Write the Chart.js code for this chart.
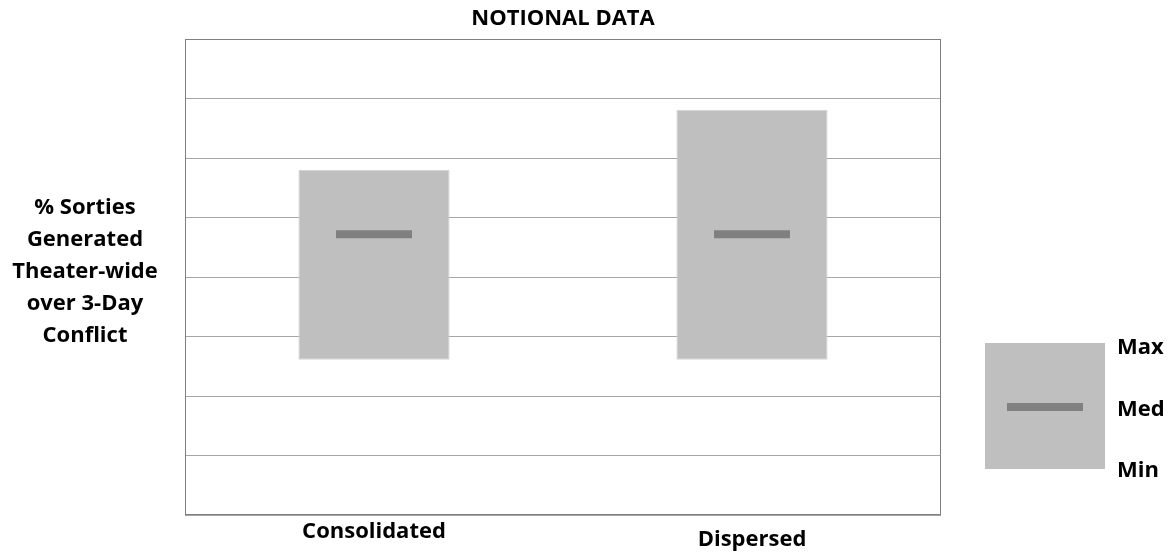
<!DOCTYPE html>
<html>
<head>
<meta charset="utf-8">
<script src="https://cdn.jsdelivr.net/npm/chart.js@4/dist/chart.umd.min.js"></script>
<style>
  body { margin: 0; background: #fff; font-family: "Open Sans", sans-serif; }
  #wrap { position: relative; width: 1174px; height: 555px; }
  canvas { position: absolute; left: 0; top: 0; }
  .ytitle {
    position: absolute; left: 0; width: 170px; top: 189px;
    text-align: center; font-weight: bold; font-size: 22px; line-height: 32px; color: #000;
  }
  .key { position: absolute; left: 985px; top: 343px; width: 120px; height: 126px; background: #bfbfbf; }
  .key .med { position: absolute; left: 22px; top: 60px; width: 76px; height: 8px; background: #808080; }
  .keylabel { position: absolute; left: 1117px; font-weight: bold; font-size: 22px; line-height: 24px; color: #000; }
</style>
</head>
<body>
<div id="wrap">
  <canvas id="chart" width="1174" height="555"></canvas>
  <div class="ytitle">% Sorties<br>Generated<br>Theater-wide<br>over 3-Day<br>Conflict</div>
  <div class="key"><div class="med"></div></div>
  <div class="keylabel" style="top:333px">Max</div>
  <div class="keylabel" style="top:395px">Med</div>
  <div class="keylabel" style="top:456px">Min</div>
</div>
<script>
// Notional data (y scale 0..8, no tick labels shown)
const categories = ['Consolidated', 'Dispersed'];
const minValues = [2.61, 2.61];
const maxValues = [5.80, 6.81];
const medValues = [4.72, 4.72];

// Category labels are drawn by hand, the original has them slightly staggered
const categoryLabels = {
  id: 'categoryLabels',
  afterDraw(chart) {
    const ctx = chart.ctx;
    const xScale = chart.scales.x;
    const bottom = chart.chartArea.bottom;
    const drop = [17, 25];
    ctx.save();
    ctx.font = 'bold 22px "Open Sans", sans-serif';
    ctx.fillStyle = '#000';
    ctx.textAlign = 'center';
    ctx.textBaseline = 'middle';
    categories.forEach((label, i) => {
      ctx.fillText(label, xScale.getPixelForValue(i), bottom + drop[i]);
    });
    ctx.restore();
  }
};

// Box round the plot area
const plotBorder = {
  id: 'plotBorder',
  afterDraw(chart) {
    const { left, top, width, height } = chart.chartArea;
    const ctx = chart.ctx;
    ctx.save();
    ctx.strokeStyle = '#7f7f7f';
    ctx.lineWidth = 1;
    ctx.strokeRect(left + 0.5, top + 0.5, width - 1, height - 1);
    ctx.restore();
  }
};

new Chart(document.getElementById('chart'), {
  data: {
    labels: categories,
    datasets: [
      {
        type: 'line',
        label: 'Med',
        data: medValues,
        showLine: false,
        pointStyle: 'line',
        pointRadius: 38,
        pointHoverRadius: 38,
        pointBorderWidth: 8,
        pointHoverBorderWidth: 8,
        pointBorderColor: '#808080',
        order: 0
      },
      {
        type: 'bar',
        label: 'Range',
        data: minValues.map((v, i) => [v, maxValues[i]]),
        backgroundColor: '#bfbfbf',
        borderColor: '#d4d4d4',
        borderWidth: 1,
        borderSkipped: false,
        barPercentage: 0.4,
        categoryPercentage: 1,
        order: 1
      }
    ]
  },
  options: {
    responsive: false,
    animation: false,
    events: [],
    layout: { autoPadding: false, padding: { left: 185, right: 233, top: 0, bottom: 0 } },
    plugins: {
      legend: { display: false },
      tooltip: { enabled: false },
      title: {
        display: true,
        text: 'NOTIONAL DATA',
        color: '#000',
        font: { family: '"Open Sans", sans-serif', size: 22, weight: 'bold', lineHeight: 1.2 },
        padding: { top: 5.8, bottom: 6.8 }
      }
    },
    scales: {
      x: {
        type: 'category',
        grid: { display: false },
        border: { display: false },
        ticks: { display: false },
        afterFit: s => { s.height = 40; }
      },
      y: {
        min: 0,
        max: 8,
        ticks: { display: false, stepSize: 1 },
        grid: { color: '#a6a6a6', drawTicks: false },
        border: { display: false },
        afterFit: s => { s.width = 0; }
      }
    }
  },
  plugins: [categoryLabels, plotBorder]
});
</script>
</body>
</html>
